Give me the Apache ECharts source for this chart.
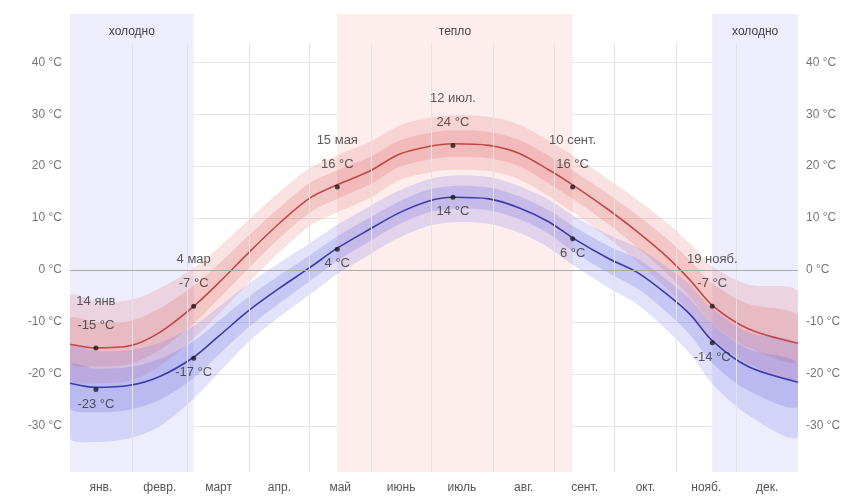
<!DOCTYPE html>
<html>
<head>
<meta charset="utf-8">
<script src="https://cdn.jsdelivr.net/npm/echarts@6/dist/echarts.min.js"></script>
<style>
  html, body { margin: 0; padding: 0; background: #fff; }
  #chart { width: 861px; height: 497px; }
</style>
</head>
<body>
<div id="chart"></div>
<script>
// day of year (0 = 1 Jan)
const days = [0, 13, 30, 45, 62, 75, 90, 105, 120, 134, 150, 165, 180, 192, 210, 225, 240, 252, 270, 285, 300, 311, 322, 340, 365]

// average daily high, with 10/25/75/90 percentile bands
const hiAvg = [-14.3, -15.0, -14.6, -12.0, -7.0, -2.3, 3.5, 9.0, 13.8, 16.4, 19.0, 22.3, 23.8, 24.3, 24.0, 22.5, 19.3, 16.4, 11.6, 7.2, 2.3, -2.0, -6.8, -11.3, -14.1]
const hiP90 = [-5.0, -6.0, -5.8, -3.5, 0.4, 4.5, 9.8, 15.0, 19.6, 22.1, 24.6, 27.8, 29.3, 29.8, 29.5, 28.0, 24.9, 22.1, 17.5, 13.4, 8.9, 5.0, 0.7, -2.8, -4.2]
const hiP75 = [-9.3, -10.0, -9.8, -7.4, -3.0, 1.3, 6.8, 12.0, 16.7, 19.2, 21.7, 24.9, 26.4, 26.9, 26.6, 25.1, 22.0, 19.2, 14.6, 10.4, 5.8, 1.8, -2.6, -6.5, -8.8]
const hiP25 = [-17.9, -18.6, -18.1, -15.4, -10.3, -5.4, 0.5, 6.1, 11.0, 13.7, 16.4, 19.8, 21.3, 21.8, 21.5, 20.0, 16.7, 13.7, 8.8, 4.2, -0.9, -5.2, -10.3, -14.9, -17.7]
const hiP10 = [-21.1, -21.8, -21.3, -18.5, -13.2, -8.3, -2.3, 3.4, 8.4, 11.1, 13.8, 17.3, 18.8, 19.3, 19.0, 17.5, 14.2, 11.1, 6.1, 1.4, -3.8, -8.3, -13.3, -18.0, -20.9]

// average daily low, with bands
const loAvg = [-21.8, -22.6, -22.2, -20.5, -16.8, -12.6, -7.7, -3.5, 0.4, 4.2, 7.8, 11.0, 13.3, 14.0, 13.7, 12.0, 9.3, 6.2, 2.2, -0.6, -4.9, -8.6, -13.6, -18.6, -21.6]
const loP90 = [-14.8, -15.6, -15.4, -14.0, -10.8, -7.0, -2.5, 1.4, 5.1, 8.7, 12.2, 15.3, 17.5, 18.2, 17.9, 16.2, 13.6, 10.6, 6.8, 4.3, 0.4, -2.9, -7.5, -12.0, -14.6]
const loP75 = [-18.2, -19.0, -18.7, -17.1, -13.7, -9.7, -5.0, -1.0, 2.8, 6.5, 10.0, 13.2, 15.5, 16.2, 15.9, 14.2, 11.5, 8.5, 4.6, 2.0, -2.1, -5.6, -10.4, -15.2, -18.0]
const loP25 = [-26.6, -27.4, -26.9, -25.0, -20.8, -16.2, -10.9, -6.4, -2.2, 1.8, 5.5, 8.8, 11.1, 11.8, 11.5, 9.8, 7.0, 3.7, -0.6, -3.7, -8.4, -12.5, -17.9, -23.2, -26.4]
const loP10 = [-32.3, -33.1, -32.4, -30.1, -24.8, -19.6, -13.7, -9.0, -4.8, -0.8, 2.9, 6.2, 8.5, 9.2, 8.9, 7.2, 4.3, 1.0, -3.4, -6.8, -11.9, -16.2, -21.9, -27.9, -32.1]

// labelled points
const markDays = [13, 62, 134, 192, 252, 322]
const markNames = ['14 янв', '4 мар', '15 мая', '12 июл.', '10 сент.', '19 нояб.']
const markHi = [-15, -7, 16, 24, 16, -7]
const markLo = [-23, -17, 4, 14, 6, -14]

// seasons
const coldSeasons = [[0, 62], [322, 365]]
const warmSeason = [134, 252]

// axes
const monthStarts = [0, 31, 59, 90, 120, 151, 181, 212, 243, 273, 304, 334, 365]
const monthNames = ['янв.', 'февр.', 'март', 'апр.', 'май', 'июнь', 'июль', 'авг.', 'сент.', 'окт.', 'нояб.', 'дек.']
const tempTicks = [-30, -20, -10, 0, 10, 20, 30, 40]

const yMin = -38.9
const yMax = 49.3
const gridTopVal = 43.7
const font = 'Liberation Sans, Arial, sans-serif'

const monthMids = monthNames.map((m, i) => (monthStarts[i] + monthStarts[i + 1]) / 2)
const pts = arr => days.map((d, i) => [d, arr[i]])

// filled band between two percentile curves
function band(lower, upper, color) {
  return {
    type: 'custom', data: [[0, 0]], silent: true, z: 2, clip: true,
    renderItem: (params, api) => {
      const top = days.map((d, i) => api.coord([d, upper[i]]))
      const bottom = days.map((d, i) => api.coord([d, lower[i]])).reverse()
      return {
        type: 'polygon',
        shape: { points: top.concat(bottom), smooth: 0.3 },
        style: { fill: color }
      }
    }
  }
}

const chart = echarts.init(document.getElementById('chart'))

chart.setOption({
  animation: false,
  grid: { left: 70, right: 63, top: 14, bottom: 25 },
  xAxis: {
    type: 'value', min: 0, max: 365,
    axisLine: { show: false },
    axisTick: { show: false },
    splitLine: { show: false },
    axisLabel: {
      customValues: monthMids,
      formatter: v => monthNames[monthMids.indexOf(v)] || '',
      color: '#555', fontSize: 12, fontFamily: font, margin: 10
    }
  },
  yAxis: [
    {
      type: 'value', min: yMin, max: yMax, position: 'left',
      axisLine: { show: false },
      axisTick: { show: false, customValues: tempTicks },
      axisLabel: { customValues: tempTicks, formatter: '{value} °C', color: '#777', fontSize: 12, fontFamily: font, margin: 8 },
      splitLine: { show: true, lineStyle: { color: '#e6e6e6', width: 1 } }
    },
    {
      type: 'value', min: yMin, max: yMax, position: 'right',
      axisLine: { show: false },
      axisTick: { show: false, customValues: tempTicks },
      axisLabel: { customValues: tempTicks, formatter: '{value} °C', color: '#777', fontSize: 12, fontFamily: font, margin: 8 },
      splitLine: { show: false }
    }
  ],
  series: [
    {
      // season backgrounds, month grid and zero line
      type: 'line', data: [], silent: true, z: 1,
      markArea: {
        silent: true,
        label: { position: 'insideTop', distance: 12, color: '#444', fontSize: 12, fontFamily: font },
        data: [
          ...coldSeasons.map(s => [{ xAxis: s[0], name: 'холодно', itemStyle: { color: '#ededfc' } }, { xAxis: s[1] }]),
          [{ xAxis: warmSeason[0], name: 'тепло', itemStyle: { color: '#fdeded' } }, { xAxis: warmSeason[1] }]
        ]
      },
      markLine: {
        silent: true, symbol: 'none', label: { show: false },
        data: [
          ...monthStarts.slice(1, -1).map(d => [
            { coord: [d, gridTopVal], lineStyle: { color: '#e3e3e3', width: 1, type: 'solid' } },
            { coord: [d, yMin] }
          ]),
          { yAxis: 0, lineStyle: { color: '#aaaaaa', width: 1, type: 'solid' } }
        ]
      }
    },
    band(hiP10, hiP90, 'rgba(230, 110, 110, 0.2)'),
    band(hiP25, hiP75, 'rgba(220, 90, 90, 0.2)'),
    band(loP10, loP90, 'rgba(110, 110, 230, 0.2)'),
    band(loP25, loP75, 'rgba(90, 90, 220, 0.2)'),
    {
      name: 'high', type: 'line', data: pts(hiAvg), smooth: 0.3, symbol: 'none', z: 4,
      lineStyle: { color: '#c24747', width: 1.6 }
    },
    {
      name: 'low', type: 'line', data: pts(loAvg), smooth: 0.3, symbol: 'none', z: 4,
      lineStyle: { color: '#3b3bab', width: 1.6 }
    },
    {
      type: 'scatter', z: 5, symbolSize: 5, itemStyle: { color: '#1a1a1a' },
      data: markDays.map((d, i) => [d, markHi[i]]),
      label: {
        show: true, position: 'top', distance: 8,
        formatter: p => markNames[p.dataIndex] + '\n' + markHi[p.dataIndex] + ' °C',
        color: '#333', fontSize: 13, lineHeight: 24, fontFamily: font
      }
    },
    {
      type: 'scatter', z: 5, symbolSize: 5, itemStyle: { color: '#1a1a1a' },
      data: markDays.map((d, i) => [d, markLo[i]]),
      label: {
        show: true, position: 'bottom', distance: 3,
        formatter: p => markLo[p.dataIndex] + ' °C',
        color: '#333', fontSize: 13, lineHeight: 18, fontFamily: font
      }
    }
  ]
})
</script>
</body>
</html>
